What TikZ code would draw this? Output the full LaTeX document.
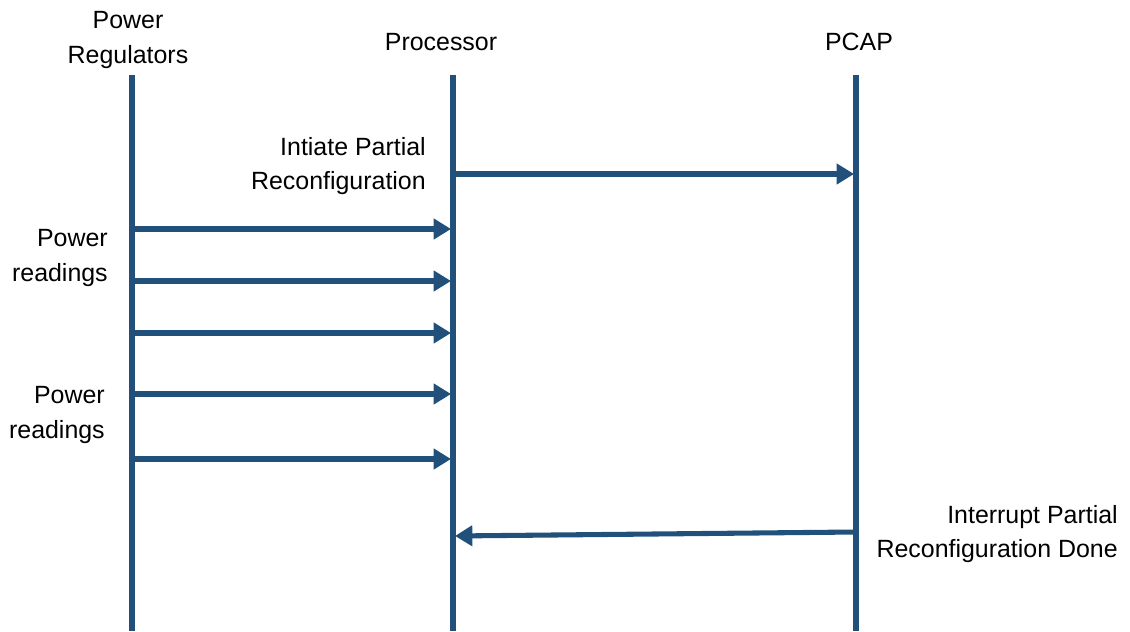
\documentclass[tikz,border=0pt]{standalone}
\usepackage{fontspec}
\setmainfont{Liberation Sans}
\usepackage{tikz}
\usetikzlibrary{arrows.meta,positioning}
\definecolor{lifeBlue}{RGB}{33,80,122}
\tikzset{
  actor/.style={font=\fontsize{18.7}{26}\selectfont,align=center,inner sep=0pt},
  note/.style={font=\fontsize{18.7}{26}\selectfont,align=right,inner sep=0pt,anchor=east},
  life/.style={line width=4pt,lifeBlue},
  msg/.style={-{Triangle[length=13pt,width=15pt]},line width=3.8pt,lifeBlue,shorten >=1.5pt},
}
\begin{document}
\begin{tikzpicture}[x={(0.75pt,0)},y={(0,-0.75pt)}]
  \useasboundingbox (0,0) rectangle (1130,631);
  % actors
  \node[actor] (reg)  at (128,40) {Power\\Regulators};
  \node[actor] (proc) at (441,42) {Processor};
  \node[actor] (pcap) at (859,42) {PCAP};
  % lifelines
  \coordinate (regT) at (132,75);   \coordinate (regB) at (132,631);
  \coordinate (procT) at (453,75);  \coordinate (procB) at (453,631);
  \coordinate (pcapT) at (856,75);  \coordinate (pcapB) at (856,631);
  \foreach \t/\b in {regT/regB,procT/procB,pcapT/pcapB}
    \draw[life] (\t)--(\b);
  % messages
  \coordinate (m0) at (0,174);
  \draw[msg] (procT |- m0)--(pcapT |- m0);
  \foreach \y [count=\i] in {229,281,333,394,459}{
    \coordinate (m\i) at (0,\y);
    \draw[msg] (regT |- m\i)--(procT |- m\i);
  }
  \coordinate (m6a) at (0,532); \coordinate (m6b) at (0,536);
  \draw[msg] (pcapT |- m6a)--(procT |- m6b);
  % notes
  \node[note] (n0) at (426,166) {Intiate Partial\\Reconfiguration};
  \node[note] (n1) at (108,258) {Power\\readings};
  \node[note] (n2) at (105,415) {Power\\readings};
  \node[note] (n3) at (1118,534) {Interrupt Partial\\Reconfiguration Done};
\end{tikzpicture}
\end{document}
